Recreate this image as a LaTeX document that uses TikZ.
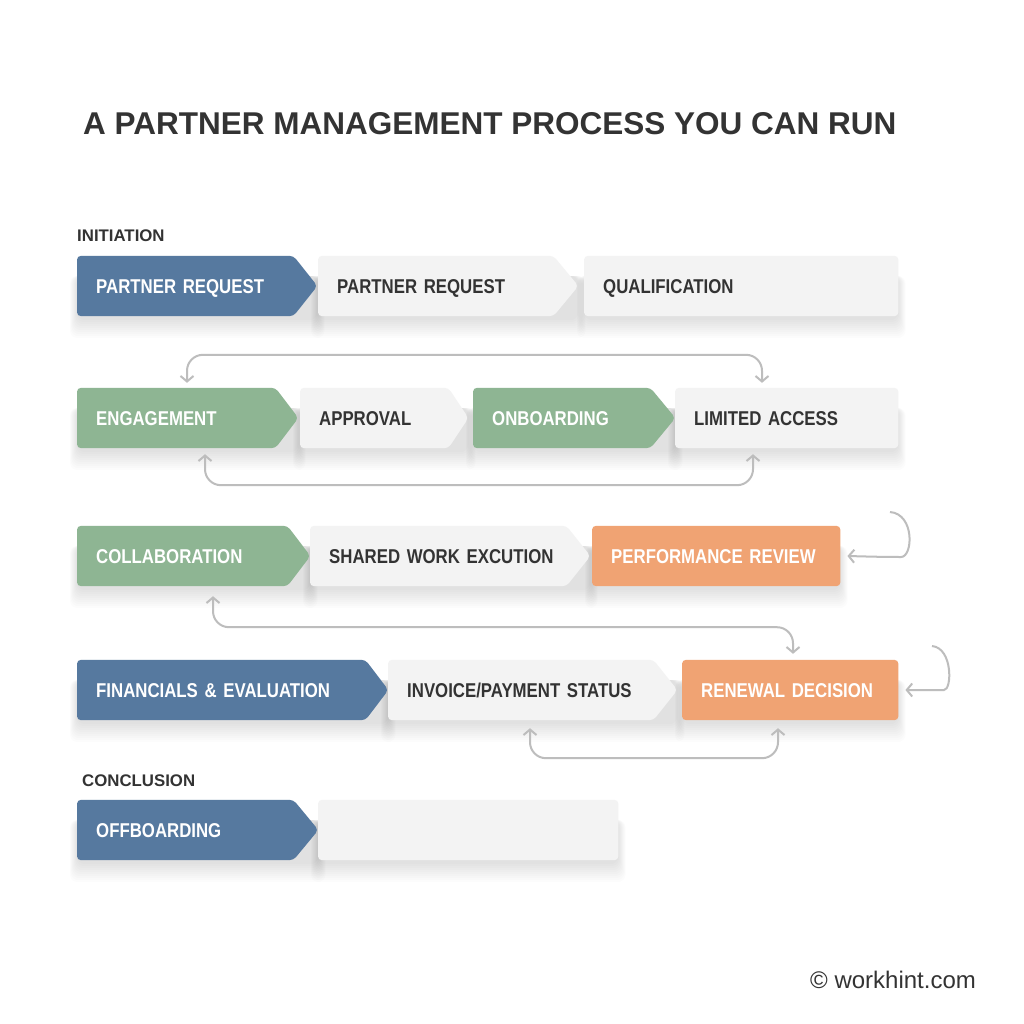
\documentclass[tikz,border=0pt]{standalone}
\usepackage{fontspec}
\setmainfont{Liberation Sans}
\newfontfamily\boxfont{Liberation Sans}[FakeStretch=0.84]
\usepackage{xcolor}
\usetikzlibrary{positioning,backgrounds,arrows.meta}

\definecolor{stepblue}{HTML}{56799F}
\definecolor{stepgreen}{HTML}{8EB593}
\definecolor{steporange}{HTML}{F0A373}
\definecolor{stepgray}{HTML}{F3F3F3}
\definecolor{textdark}{HTML}{333333}
\definecolor{linkgray}{HTML}{BDBDBD}

\tikzset{barb/.tip={Straight Barb[length=5.5pt,width=13pt]}}

% soft shadow under a node: #1 node, #2 extra length on the right
\newcommand{\softshadow}[2]{%
  \foreach \s in {0,2,...,18}
    \fill[black, opacity=0.011, rounded corners=8pt]
      ([xshift=-0.4*\s pt, yshift=-20pt]#1.north west) rectangle ([xshift=#2+0.4*\s pt, yshift=-4pt-\s pt]#1.south east);}
% arrow-shaped step behind a node: #1 node, #2 colour, #3 tip length
\newcommand{\stepfill}[3]{%
  \fill[#2, rounded corners=4pt] (#1.south west) -- (#1.north west) -- (#1.north east)
    -- ([xshift=#3]#1.east) -- (#1.south east) -- cycle;}
% plain box behind a node
\newcommand{\rectfill}[2]{%
  \fill[#2, rounded corners=4pt] (#1.south west) rectangle (#1.north east);}

\begin{document}
\begin{tikzpicture}[x=1pt, y=-1pt,
    box/.style={rectangle, anchor=west, minimum height=60pt, inner xsep=19pt, inner ysep=0pt,
      align=left, text height=14.3pt, text depth=0pt, font=\boxfont\bfseries\fontsize{20}{22}\selectfont},
    dark/.style={box, text=white},
    light/.style={box, text=textdark},
    phase/.style={anchor=base west, inner sep=0pt, text=textdark, font=\bfseries\fontsize{16.8}{18}\selectfont},
    link/.style={draw=linkgray, line width=2pt, rounded corners=16pt}
]
    \useasboundingbox (0,0) rectangle (1024,1024);

    % Title
    \node[anchor=base west, inner sep=0pt, text=textdark, font=\bfseries\fontsize{31.5}{34}\selectfont]
      (title) at (83,135) {A PARTNER MANAGEMENT PROCESS YOU CAN RUN};

    % Initiation
    \node[phase] (initiation) at (77,241) {INITIATION};
    \node[dark, text width=178pt] (request) at (77,286) {PARTNER REQUEST};
    \node[light, text width=197pt] (request2) at (318,286) {PARTNER REQUEST};
    \node[light, text width=276pt] (qualification) at (584,286) {QUALIFICATION};

    % Second row
    \node[dark, text width=160pt] (engagement) at (77,418) {ENGAGEMENT};
    \node[light, text width=110pt] (approval) at (300,418) {APPROVAL};
    \node[dark, text width=139pt] (onboarding) at (473,418) {ONBOARDING};
    \node[light, text width=185pt] (access) at (675,418) {LIMITED ACCESS};

    % Third row
    \node[dark, text width=172pt] (collaboration) at (77,556) {COLLABORATION};
    \node[light, text width=218pt] (shared) at (310,556) {\mbox{SHARED WORK EXCUTION}};
    \node[dark, text width=210pt] (review) at (592,556) {PERFORMANCE REVIEW};

    % Fourth row
    \node[dark, text width=250pt] (financials) at (77,690) {FINANCIALS \& EVALUATION};
    \node[light, text width=227pt] (invoice) at (388,690) {INVOICE/PAYMENT STATUS};
    \node[dark, text width=178pt] (renewal) at (682,690) {RENEWAL DECISION};

    % Conclusion
    \node[phase] (conclusion) at (82,786) {CONCLUSION};
    \node[dark, text width=178pt] (offboarding) at (77,830) {OFFBOARDING};
    \node[light, text width=262pt] (closing) at (318,830) {};

    \node[anchor=base west, inner sep=0pt, text=textdark, font=\fontsize{24}{26}\selectfont]
      (credit) at (810,988) {© workhint.com};

    % Shadows and step shapes
    \begin{scope}[on background layer]
        \fill[white] (0,0) rectangle (1024,1024);
        \softshadow{request}{24pt}
        \softshadow{request2}{25pt}
        \softshadow{qualification}{0pt}
        \softshadow{engagement}{23pt}
        \softshadow{approval}{20pt}
        \softshadow{onboarding}{25pt}
        \softshadow{access}{0pt}
        \softshadow{collaboration}{23pt}
        \softshadow{shared}{24pt}
        \softshadow{review}{0pt}
        \softshadow{financials}{23pt}
        \softshadow{invoice}{24pt}
        \softshadow{renewal}{0pt}
        \softshadow{offboarding}{25pt}
        \softshadow{closing}{0pt}

        \stepfill{request}{stepblue}{24pt}
        \stepfill{request2}{stepgray}{25pt}
        \rectfill{qualification}{stepgray}
        \stepfill{engagement}{stepgreen}{23pt}
        \stepfill{approval}{stepgray}{20pt}
        \stepfill{onboarding}{stepgreen}{25pt}
        \rectfill{access}{stepgray}
        \stepfill{collaboration}{stepgreen}{23pt}
        \stepfill{shared}{stepgray}{24pt}
        \rectfill{review}{steporange}
        \stepfill{financials}{stepblue}{23pt}
        \stepfill{invoice}{stepgray}{24pt}
        \rectfill{renewal}{steporange}
        \stepfill{offboarding}{stepblue}{25pt}
        \rectfill{closing}{stepgray}
    \end{scope}

    % Loops
    \coordinate (reviewloop) at (890,512);
    \coordinate (renewalloop) at (932,646);

    \draw[link, barb-barb] ([xshift=110pt,yshift=5pt]engagement.north west) -- ++(0,-28)
        -| ([xshift=87pt,yshift=5pt]access.north west);
    \draw[link, barb-barb] ([xshift=128pt,yshift=-6pt]engagement.south west) -- ++(0,31)
        -| ([xshift=78pt,yshift=-6pt]access.south west);
    \draw[link, barb-barb] ([xshift=136pt,yshift=-10pt]collaboration.south west) -- ++(0,31)
        -| ([xshift=111pt,yshift=6pt]renewal.north west);
    \draw[link, barb-barb] ([xshift=142pt,yshift=-8pt]invoice.south west) -- ++(0,30)
        -| ([xshift=96pt,yshift=-8pt]renewal.south west);
    \draw[link, -barb] (reviewloop) .. controls +(25,2) and +(28,0) .. ++(-5,45)
        -- ([xshift=7pt]review.east);
    \draw[link, -barb] (renewalloop) .. controls +(21,2) and +(24,0) .. ++(-4,44)
        -- ([xshift=7pt]renewal.east);
\end{tikzpicture}
\end{document}
